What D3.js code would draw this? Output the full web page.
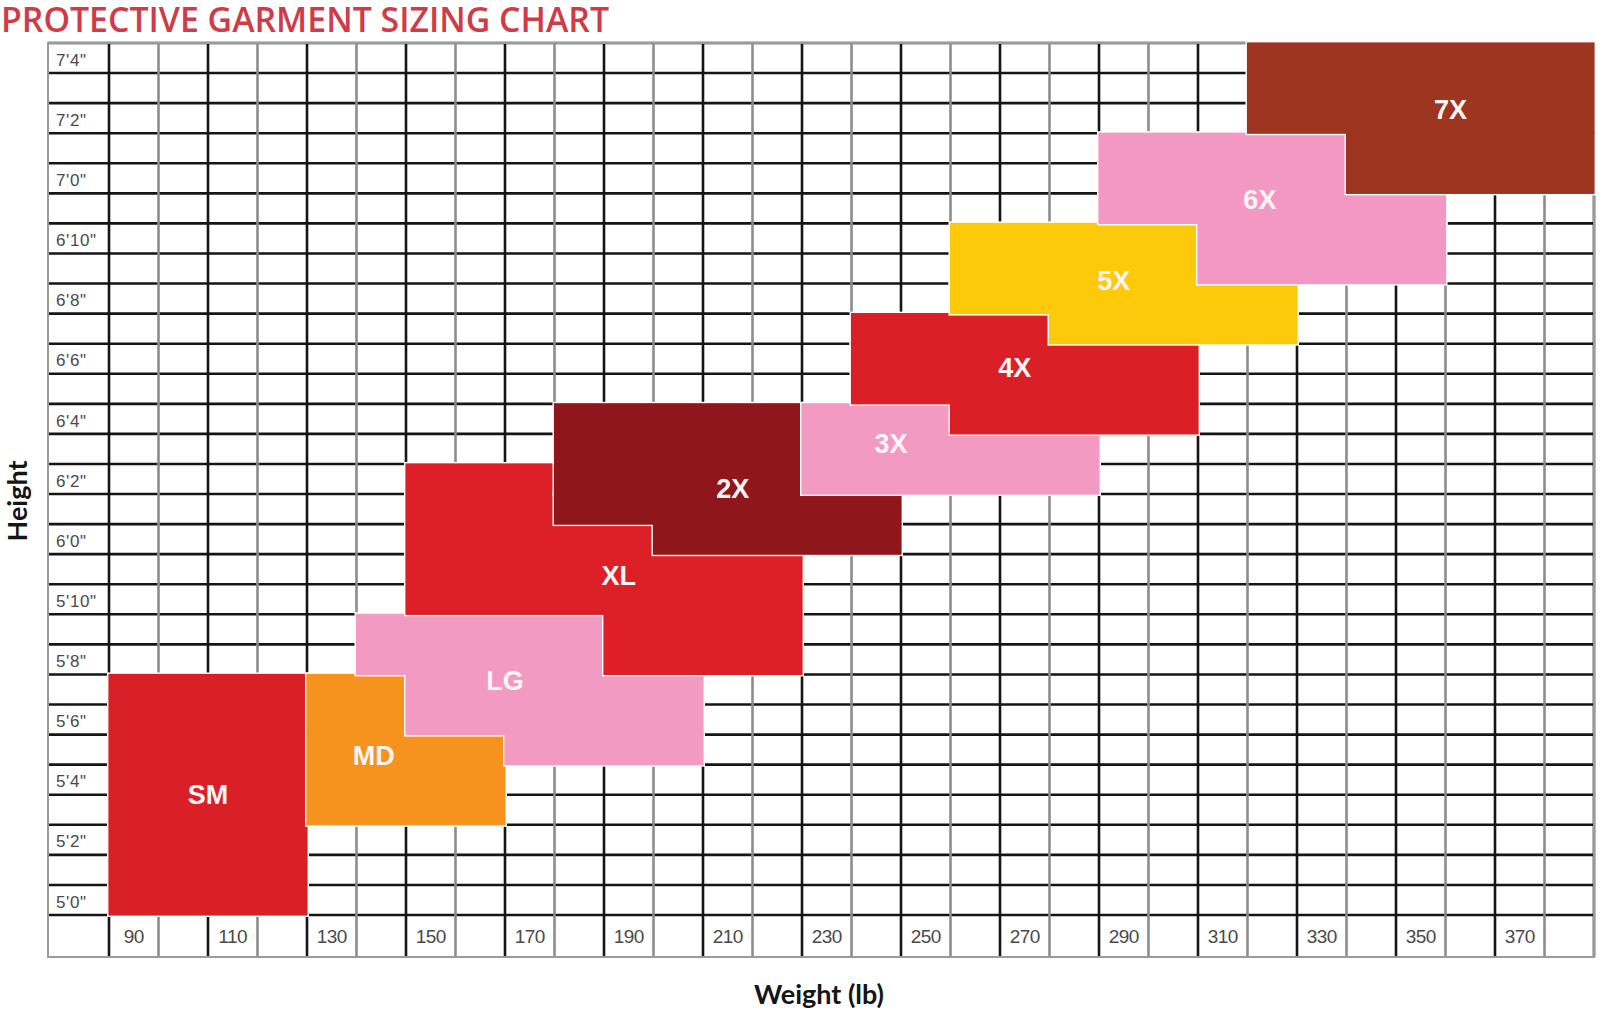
<!DOCTYPE html>
<html>
<head>
<meta charset="utf-8">
<script src="https://cdn.jsdelivr.net/npm/d3@7"></script>
<style>
  body { margin: 0; background: #fff; }
</style>
</head>
<body>
<svg id="chart" width="1600" height="1012"></svg>
<script>
// size names, fill colours and label anchor (weight lb, height in)
const sizes = ["SM", "MD", "LG", "XL", "2X", "3X", "4X", "5X", "6X", "7X"];
const sizeColors = ["#d91f27", "#f6931f", "#f39ac3", "#dd1f27", "#8f171c",
                    "#f39ac3", "#db1f27", "#fdc90b", "#f398c2", "#9d3520"];
const labelWeight = [105, 138.5, 165, 188, 211, 243, 268, 288, 317.5, 356];
const labelHeight = [64, 65.3, 67.8, 71.3, 74.2, 75.7, 78.2, 81.1, 83.8, 86.8];

// visible steps of each size: [weight from, weight to, height from, height to]
const sizeRects = [
  [[85, 125, 60, 68]],
  [[125, 145, 66, 68], [125, 165, 63, 66]],
  [[135, 185, 68, 70], [145, 205, 66, 68], [165, 205, 65, 66]],
  [[145, 175, 73, 75], [145, 195, 72, 73], [145, 225, 70, 72], [185, 225, 68, 70]],
  [[175, 225, 74, 77], [175, 245, 73, 74], [195, 245, 72, 73]],
  [[225, 255, 76, 77], [225, 285, 74, 76]],
  [[235, 275, 79, 80], [235, 305, 77, 79], [255, 305, 76, 77]],
  [[255, 305, 81, 83], [255, 325, 80, 81], [275, 325, 79, 80]],
  [[285, 335, 84, 86], [285, 355, 83, 84], [305, 355, 81, 83]],
  [[315, 385, 86, 89], [335, 385, 84, 86]]
];

// tick labels
const weightTicks = [90, 110, 130, 150, 170, 190, 210, 230, 250, 270, 290, 310, 330, 350, 370];
const heightTicks = [88, 86, 84, 82, 80, 78, 76, 74, 72, 70, 68, 66, 64, 62, 60];

const svg = d3.select("#chart");
const gridLeft = 48, gridTop = 43, gridRight = 1594, rowsBottom = 915, gridBottom = 957;

const x = d3.scaleLinear().domain([85, 385]).range([109, gridRight]);
const y = d3.scaleLinear().domain([60, 89]).range([rowsBottom, gridTop]);

const fmtHeight = h => Math.floor(h / 12) + "'" + (h % 12) + '"';

// ---- grid ----
const grid = svg.append("g");
const colEdges = d3.range(85, 386, 10);
const rowEdges = d3.range(60, 90, 1);

grid.selectAll("line.h").data(rowEdges).enter().append("line")
  .attr("x1", gridLeft).attr("x2", gridRight)
  .attr("y1", d => y(d)).attr("y2", d => y(d))
  .attr("stroke", "#151515").attr("stroke-width", 2.6);

grid.selectAll("line.v").data(colEdges).enter().append("line")
  .attr("x1", d => x(d)).attr("x2", d => x(d))
  .attr("y1", gridTop).attr("y2", gridBottom)
  .attr("stroke", (d, i) => (i % 2 === 1 ? "#8c8c8c" : "#151515"))
  .attr("stroke-width", 2.6);

grid.append("rect")
  .attr("x", gridLeft).attr("y", gridTop)
  .attr("width", gridRight - gridLeft).attr("height", gridBottom - gridTop)
  .attr("fill", "none").attr("stroke", "#9a9a9a").attr("stroke-width", 2);

// ---- size blocks ----
const blocks = svg.append("g");
sizes.forEach((s, i) => {
  const g = blocks.append("g");
  const rects = sizeRects[i];
  // white edge first; the fills (with a thin own-colour stroke) hide inner seams
  g.selectAll("rect.edge").data(rects).enter().append("rect")
    .attr("x", d => x(d[0])).attr("width", d => x(d[1]) - x(d[0]))
    .attr("y", d => y(d[3])).attr("height", d => y(d[2]) - y(d[3]))
    .attr("fill", sizeColors[i]).attr("stroke", "#fff").attr("stroke-width", 4);
  g.selectAll("rect.fill").data(rects).enter().append("rect")
    .attr("x", d => x(d[0])).attr("width", d => x(d[1]) - x(d[0]))
    .attr("y", d => y(d[3])).attr("height", d => y(d[2]) - y(d[3]))
    .attr("fill", sizeColors[i])
    .attr("stroke", sizeColors[i]).attr("stroke-width", 1.2);
});

svg.append("g").selectAll("text").data(sizes).enter().append("text")
  .attr("x", (d, i) => x(labelWeight[i]))
  .attr("y", (d, i) => y(labelHeight[i]))
  .attr("dy", "0.36em")
  .attr("text-anchor", "middle")
  .attr("font-family", "Liberation Sans, Arial, sans-serif")
  .attr("font-weight", 700).attr("font-size", 27)
  .attr("fill", "#fff5f5")
  .text(d => d);

// ---- tick labels ----
svg.append("g").selectAll("text").data(weightTicks).enter().append("text")
  .attr("x", d => x(d)).attr("y", (rowsBottom + gridBottom) / 2)
  .attr("dy", "0.36em").attr("text-anchor", "middle")
  .attr("font-family", "Liberation Sans, Arial, sans-serif")
  .attr("font-size", 19).attr("letter-spacing", -0.5)
  .attr("fill", "#4a4a4a")
  .text(d => d);

svg.append("g").selectAll("text").data(heightTicks).enter().append("text")
  .attr("x", 56).attr("y", d => y(d + 0.5))
  .attr("dy", "0.45em")
  .attr("font-family", "Liberation Sans, Arial, sans-serif")
  .attr("font-size", 17).attr("letter-spacing", 0.6)
  .attr("fill", "#4a4a4a")
  .text(fmtHeight);

// ---- titles ----
svg.append("text")
  .attr("x", 1).attr("y", 32)
  .attr("font-family", "Open Sans, sans-serif").attr("font-weight", 600)
  .attr("font-size", 35).attr("fill", "#cf3b46")
  .attr("textLength", 608).attr("lengthAdjust", "spacingAndGlyphs")
  .text("PROTECTIVE GARMENT SIZING CHART");

svg.append("text")
  .attr("x", 819).attr("y", 1004)
  .attr("text-anchor", "middle")
  .attr("font-family", "Lato, sans-serif").attr("font-weight", 700)
  .attr("font-size", 27).attr("fill", "#151515")
  .text("Weight (lb)");

svg.append("text")
  .attr("transform", "translate(27,501) rotate(-90)")
  .attr("text-anchor", "middle")
  .attr("font-family", "Lato, sans-serif").attr("font-weight", 700)
  .attr("font-size", 27).attr("fill", "#151515")
  .text("Height");
</script>
</body>
</html>
